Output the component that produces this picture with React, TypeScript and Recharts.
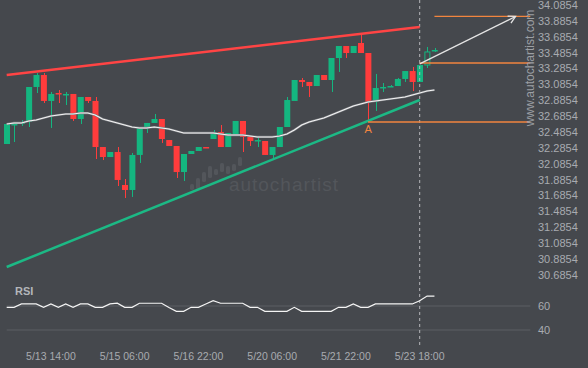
import { ComposedChart, Bar, Line, XAxis, YAxis, ReferenceLine, ReferenceDot } from 'recharts'

const BG = '#45484d'
const UP = '#14b680'
const DOWN = '#ff3c3c'
const ORANGE = '#f2853f'
const AXIS_TEXT = '#a8abb0'
const FONT = '"Liberation Sans", Arial, sans-serif'

// 4h candles, oldest first
const OPEN = [
  32.335, 32.574, 32.587, 32.612, 33.053, 33.204, 32.877, 32.977, 32.952, 32.965,
  32.650, 32.927, 32.877, 32.297, 32.171, 32.234, 31.819, 31.756, 32.197, 32.549,
  32.600, 32.650, 32.385, 32.310, 31.982, 32.209, 32.247, 32.297, 32.398, 32.486,
  32.297, 32.461, 32.625, 32.424, 32.373, 32.373, 32.197, 32.297, 32.549, 32.877,
  33.141, 33.116, 33.065, 33.204, 33.141, 33.418, 33.569, 33.481, 33.607, 33.481,
  32.864, 33.040, 33.053, 33.065, 33.154, 33.254, 33.116, 33.330, 33.506,
]
const HIGH = [
  32.600, 32.600, 32.637, 33.053, 33.229, 33.229, 32.990, 33.015, 32.990, 32.965,
  32.927, 32.927, 32.927, 32.297, 32.234, 32.297, 31.894, 32.222, 32.549, 32.600,
  32.713, 32.650, 32.385, 32.310, 32.209, 32.247, 32.297, 32.297, 32.511, 32.574,
  32.474, 32.625, 32.625, 32.424, 32.411, 32.373, 32.297, 32.549, 32.927, 33.141,
  33.166, 33.116, 33.204, 33.204, 33.418, 33.569, 33.569, 33.569, 33.708, 33.481,
  33.217, 33.103, 33.078, 33.166, 33.254, 33.305, 33.330, 33.557, 33.544,
]
const LOW = [
  32.335, 32.360, 32.562, 32.549, 32.977, 32.851, 32.537, 32.851, 32.826, 32.625,
  32.587, 32.851, 32.146, 32.133, 32.171, 31.806, 31.655, 31.668, 32.096, 32.474,
  32.600, 32.348, 32.310, 31.907, 31.869, 32.209, 32.247, 32.285, 32.398, 32.297,
  32.297, 32.461, 32.234, 32.310, 32.297, 32.197, 32.146, 32.297, 32.549, 32.877,
  33.053, 32.927, 33.065, 33.141, 32.990, 33.242, 33.418, 33.481, 33.481, 32.612,
  32.751, 32.990, 33.053, 33.065, 33.116, 33.002, 33.116, 33.292, 33.494,
]
const CLOSE = [
  32.587, 32.587, 32.612, 33.053, 33.204, 32.877, 32.965, 32.965, 32.965, 32.650,
  32.927, 32.877, 32.297, 32.171, 32.234, 31.882, 31.756, 32.197, 32.549, 32.600,
  32.650, 32.398, 32.310, 31.982, 32.209, 32.247, 32.297, 32.285, 32.486, 32.297,
  32.474, 32.625, 32.424, 32.373, 32.385, 32.197, 32.297, 32.549, 32.889, 33.141,
  33.116, 33.065, 33.204, 33.141, 33.418, 33.569, 33.481, 33.569, 33.481, 32.864,
  33.040, 33.053, 33.065, 33.154, 33.254, 33.116, 33.330, 33.494, 33.519,
]
const MA = [
  32.587, 32.600, 32.600, 32.625, 32.637, 32.662, 32.688, 32.700, 32.713, 32.713,
  32.725, 32.725, 32.700, 32.650, 32.625, 32.600, 32.574, 32.549, 32.537, 32.537,
  32.549, 32.537, 32.524, 32.499, 32.474, 32.474, 32.474, 32.474, 32.474, 32.461,
  32.448, 32.448, 32.448, 32.436, 32.424, 32.424, 32.424, 32.436, 32.461, 32.511,
  32.574, 32.612, 32.637, 32.662, 32.700, 32.738, 32.776, 32.814, 32.839, 32.864,
  32.877, 32.889, 32.902, 32.914, 32.927, 32.952, 32.977, 33.002, 33.015,
]
const RSI = [
  58.9, 58.9, 61.7, 61.7, 61.7, 58.9, 61.7, 58.9, 61.7, 58.9,
  61.7, 61.7, 58.9, 58.9, 61.7, 62.3, 58.9, 58.9, 62.3, 62.3,
  62.3, 62.3, 58.8, 55.6, 55.6, 58.9, 58.9, 61.7, 64.4, 62.3,
  62.3, 62.3, 62.3, 58.9, 58.9, 55.6, 55.6, 55.6, 55.6, 58.9,
  55.6, 55.6, 55.6, 55.6, 55.6, 58.9, 58.9, 61.7, 58.9, 58.9,
  61.7, 61.7, 61.7, 61.7, 61.7, 61.7, 64.4, 68.3, 68.3,
]
const LIVE_CANDLE = 57
const SLOTS = 72 // empty slots on the right leave room for the projection

const PRICE_TICKS = [
  30.6854, 30.8854, 31.0854, 31.2854, 31.4854, 31.6854, 31.8854, 32.0854, 32.2854,
  32.4854, 32.6854, 32.8854, 33.0854, 33.2854, 33.4854, 33.6854, 33.8854, 34.0854,
]
const TIME_TICKS = [6, 16, 26, 36, 46, 56]
const TIME_LABELS = ['5/13 14:00', '5/15 06:00', '5/16 22:00', '5/20 06:00', '5/21 22:00', '5/23 18:00']
const RSI_TICKS = [40, 60]

const RESISTANCE = [{ i: 0, v: 33.204 }, { i: 56, v: 33.808 }]
const SUPPORT = [{ i: 0, v: 30.786 }, { i: 56, v: 32.889 }]
const PROJECTION = [{ i: 56, v: 33.345 }, { i: 69, v: 33.941 }]
const LEVELS = [
  { from: 49, to: 71, v: 32.612 },
  { from: 56, to: 71, v: 33.355 },
  { from: 58, to: 71, v: 33.941 },
]
const POINT_A = { i: 49, v: 32.612 }
const NOW = 56

const rows = Array.from({ length: SLOTS }, (_, i) =>
  i < OPEN.length
    ? { i, o: OPEN[i], h: HIGH[i], l: LOW[i], c: CLOSE[i], range: [LOW[i], HIGH[i]], ma: MA[i], rsi: RSI[i], live: i === LIVE_CANDLE }
    : { i }
)

function Candle(props: any) {
  const { x, y, width, height, payload } = props
  if (payload == null || payload.o == null) return null
  const { o, h, l, c, live } = payload
  const top = Math.min(y, y + height)
  const full = Math.abs(height)
  const ppu = h - l > 0 ? full / (h - l) : 0
  const yOf = (v: number) => top + (h - v) * ppu
  const color = c >= o ? UP : DOWN
  const cx = Math.round(x + width / 2) + 0.5
  const bodyTop = yOf(Math.max(o, c))
  const bodyH = Math.max(1.5, Math.abs(yOf(o) - yOf(c)))
  return (
    <g>
      <line x1={cx} x2={cx} y1={top} y2={top + full} stroke={color} strokeWidth={1} />
      <rect
        x={x + (live ? 0.5 : 0)}
        y={bodyTop}
        width={width - (live ? 1 : 0)}
        height={bodyH}
        fill={live ? BG : color}
        stroke={live ? color : 'none'}
        strokeWidth={1}
      />
    </g>
  )
}

function Arrow(p: any) {
  const { x1, y1, x2, y2 } = p
  const a = Math.atan2(y2 - y1, x2 - x1)
  const len = 8
  const w = 0.5
  return (
    <g stroke="#e4e4e4" strokeWidth={1.3} fill="none">
      <line x1={x1} y1={y1} x2={x2} y2={y2} />
      <polyline
        points={`${x2 - len * Math.cos(a - w)},${y2 - len * Math.sin(a - w)} ${x2},${y2} ${x2 - len * Math.cos(a + w)},${y2 - len * Math.sin(a + w)}`}
      />
    </g>
  )
}

const LOGO_BARS = [
  [190, 184, 6], [196, 178, 11], [202, 172, 10], [208, 166, 12], [214, 169, 6],
  [220, 163, 9], [226, 166, 8], [232, 164, 7], [238, 157, 9],
]

export default function App() {
  return (
    <div style={{ position: 'fixed', left: 0, top: 0, width: 588, height: 368, background: BG, overflow: 'hidden', fontFamily: FONT }}>
      <svg width={588} height={368} style={{ position: 'absolute', left: 0, top: 0 }}>
        {LOGO_BARS.map(([x, y, h], k) => (
          <rect key={k} x={x} y={y} width={4} height={h} rx={1.5} fill="#53565b" />
        ))}
        <text x={284} y={191} textAnchor="middle" fontSize={19} fill="#53565b" fontFamily={FONT} letterSpacing={1}>
          autochartist
        </text>
      </svg>

      <div style={{ position: 'absolute', left: 0, top: 0 }}>
        <ComposedChart width={588} height={285} data={rows} margin={{ top: 0, right: 0, bottom: 0, left: 3 }}>
          <XAxis dataKey="i" type="category" scale="band" hide />
          <YAxis
            orientation="right"
            width={54}
            domain={[30.5594, 34.1484]}
            allowDataOverflow
            ticks={PRICE_TICKS}
            interval={0}
            tickFormatter={(v: number) => v.toFixed(4)}
            axisLine={false}
            tickLine={false}
            tickSize={0}
            tickMargin={4}
            tick={{ fill: AXIS_TEXT, fontSize: 11, fontFamily: FONT }}
          />
          <ReferenceLine x={NOW} stroke="#b5b7ba" strokeDasharray="3 3" />
          <ReferenceLine
            segment={[{ x: RESISTANCE[0].i, y: RESISTANCE[0].v }, { x: RESISTANCE[1].i, y: RESISTANCE[1].v }]}
            stroke="#ff4444"
            strokeWidth={2.5}
          />
          <ReferenceLine
            segment={[{ x: SUPPORT[0].i, y: SUPPORT[0].v }, { x: SUPPORT[1].i, y: SUPPORT[1].v }]}
            stroke="#1cb985"
            strokeWidth={2.5}
          />
          {LEVELS.map((lv, k) => (
            <ReferenceLine
              key={k}
              segment={[{ x: lv.from, y: lv.v }, { x: lv.to, y: lv.v }]}
              stroke={ORANGE}
              strokeWidth={1.3}
            />
          ))}
          <Line dataKey="ma" stroke="#7a7d82" strokeWidth={2.2} dot={false} isAnimationActive={false} />
          <Line dataKey="ma" stroke="#f4f4f4" strokeWidth={1.1} dot={false} isAnimationActive={false} />
          <Bar dataKey="range" barSize={6} shape={<Candle />} isAnimationActive={false} />
          <ReferenceLine
            segment={[{ x: PROJECTION[0].i, y: PROJECTION[0].v }, { x: PROJECTION[1].i, y: PROJECTION[1].v }]}
            shape={Arrow}
          />
          <ReferenceDot
            x={POINT_A.i}
            y={POINT_A.v}
            r={1}
            fill="none"
            stroke="none"
            label={{ value: 'A', position: 'bottom', offset: 2, fill: ORANGE, fontSize: 11, fontFamily: FONT }}
          />
        </ComposedChart>
      </div>

      <div style={{ position: 'absolute', left: 0, top: 285 }}>
        <ComposedChart width={588} height={83} data={rows} margin={{ top: 0, right: 0, bottom: 0, left: 3 }}>
          <XAxis
            dataKey="i"
            type="category"
            scale="band"
            height={23}
            ticks={TIME_TICKS}
            interval={0}
            tickFormatter={(v: number) => TIME_LABELS[TIME_TICKS.indexOf(v)] ?? ''}
            axisLine={false}
            tickLine={false}
            tickSize={0}
            tickMargin={8}
            tick={{ fill: AXIS_TEXT, fontSize: 10.5, fontFamily: FONT }}
          />
          <YAxis
            orientation="right"
            width={54}
            domain={[27.5, 77.5]}
            allowDataOverflow
            ticks={RSI_TICKS}
            interval={0}
            axisLine={false}
            tickLine={false}
            tickSize={0}
            tickMargin={4}
            tick={{ fill: AXIS_TEXT, fontSize: 11, fontFamily: FONT }}
          />
          {RSI_TICKS.map((t) => (
            <ReferenceLine key={t} segment={[{ x: 0, y: t }, { x: SLOTS - 1, y: t }]} stroke="#5c5f64" />
          ))}
          <ReferenceLine x={NOW} stroke="#b5b7ba" strokeDasharray="3 3" />
          <Line dataKey="rsi" stroke="#f4f4f4" strokeWidth={1.2} dot={false} isAnimationActive={false} />
        </ComposedChart>
      </div>

      <div style={{ position: 'absolute', left: 15, top: 285, fontSize: 11, fontWeight: 700, color: '#b3b6ba' }}>RSI</div>
      <div
        style={{
          position: 'absolute',
          left: 530,
          top: 68,
          transform: 'translate(-50%, -50%) rotate(-90deg)',
          fontSize: 12,
          color: '#9c9fa4',
          whiteSpace: 'nowrap',
        }}
      >
        www.autochartist.com
      </div>
    </div>
  )
}
